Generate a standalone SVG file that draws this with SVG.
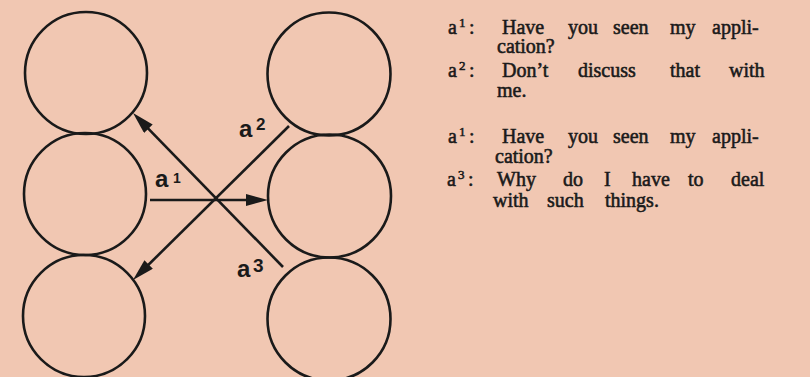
<svg xmlns="http://www.w3.org/2000/svg" width="810" height="377" viewBox="0 0 810 377">
<defs>
<marker id="arr" markerUnits="userSpaceOnUse" markerWidth="22" markerHeight="12" refX="12" refY="6" orient="auto">
<path d="M0,0 L22,6 L0,12 z" fill="#1a1a1a"/>
</marker>
<style>
.node{fill:none;stroke:#1a1a1a;stroke-width:2.6}
.edge{fill:none;stroke:#1a1a1a;stroke-width:2.6;marker-end:url(#arr)}
.lbl{font-family:"Liberation Sans",Arial,sans-serif;font-weight:bold;fill:#1a1a1a}
.txt{font-family:"Liberation Serif","Times New Roman",serif;font-size:20px;fill:#1a1a1a;stroke:#1a1a1a;stroke-width:0.55}
.sup{font-size:13px}
</style>
</defs>
<rect width="810" height="377" fill="#f1c7b2"/>
<g id="L1"><circle class="node" cx="86" cy="73" r="61"/></g>
<g id="L2"><circle class="node" cx="85" cy="194" r="61"/></g>
<g id="L3"><circle class="node" cx="84" cy="316" r="61"/></g>
<g id="R1"><circle class="node" cx="329" cy="74" r="61.5"/></g>
<g id="R2"><circle class="node" cx="329.5" cy="196" r="61.5"/></g>
<g id="R3"><circle class="node" cx="329" cy="319" r="61.5"/></g>
<g id="connectors">
<path class="edge" d="M150,200 L258,200"/>
<path class="edge" d="M283,267 L140,120.2"/>
<path class="edge" d="M289,126 L140.1,273"/>
</g>
<g id="labels">
<text class="lbl"><tspan x="155" y="187" font-size="24">a</tspan><tspan x="173" y="183" font-size="14">1</tspan></text>
<text class="lbl"><tspan x="239" y="137" font-size="24">a</tspan><tspan x="256" y="130" font-size="17">2</tspan></text>
<text class="lbl"><tspan x="237" y="277" font-size="24">a</tspan><tspan x="253" y="272" font-size="19">3</tspan></text>
</g>
<g id="dialogue">
<text class="txt" y="34"><tspan x="448">a</tspan><tspan class="sup" x="459" dy="-7">1</tspan><tspan x="469" dy="7">:</tspan><tspan x="502">Have</tspan><tspan x="568">you</tspan><tspan x="613">seen</tspan><tspan x="670">my</tspan><tspan x="712">appli-</tspan></text>
<text class="txt" y="53"><tspan x="497">cation?</tspan></text>
<text class="txt" y="77"><tspan x="448">a</tspan><tspan class="sup" x="459" dy="-7">2</tspan><tspan x="469" dy="7">:</tspan><tspan x="502">Don’t</tspan><tspan x="578">discuss</tspan><tspan x="670">that</tspan><tspan x="729">with</tspan></text>
<text class="txt" y="97"><tspan x="497">me.</tspan></text>
<text class="txt" y="143"><tspan x="448">a</tspan><tspan class="sup" x="459" dy="-7">1</tspan><tspan x="469" dy="7">:</tspan><tspan x="502">Have</tspan><tspan x="568">you</tspan><tspan x="613">seen</tspan><tspan x="670">my</tspan><tspan x="712">appli-</tspan></text>
<text class="txt" y="163"><tspan x="495">cation?</tspan></text>
<text class="txt" y="186"><tspan x="447">a</tspan><tspan class="sup" x="458" dy="-7">3</tspan><tspan x="468" dy="7">:</tspan><tspan x="497">Why</tspan><tspan x="563">do</tspan><tspan x="604">I</tspan><tspan x="632">have</tspan><tspan x="688">to</tspan><tspan x="731">deal</tspan></text>
<text class="txt" y="207"><tspan x="493">with</tspan><tspan x="547">such</tspan><tspan x="605">things.</tspan></text>
</g>
</svg>
